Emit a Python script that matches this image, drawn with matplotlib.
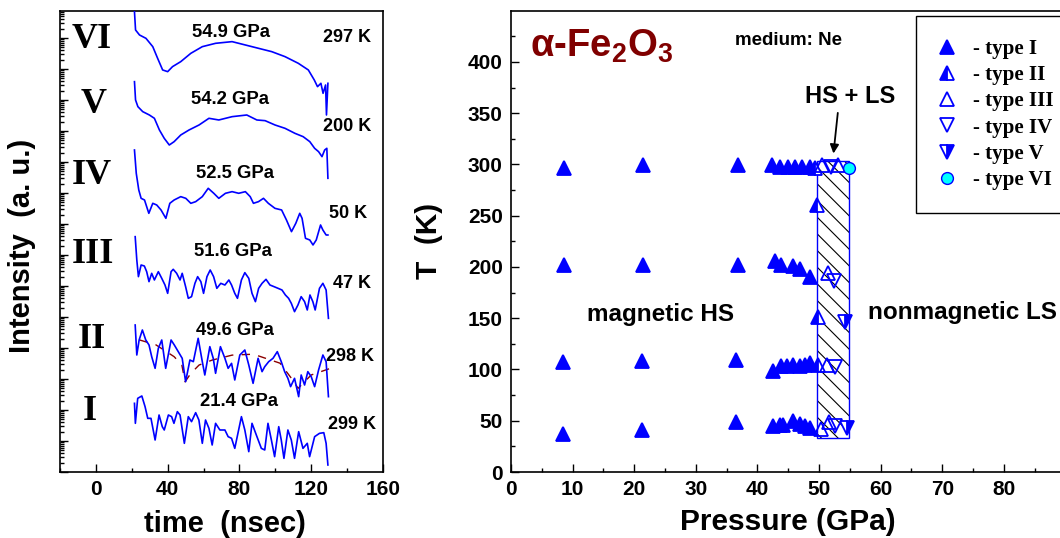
import numpy as np
import matplotlib
matplotlib.use('Agg')
import matplotlib.pyplot as plt
from matplotlib.patches import Rectangle
from matplotlib.ticker import LogLocator, MultipleLocator, NullFormatter, FixedLocator

plt.rcParams['font.family'] = ['Liberation Sans', 'DejaVu Sans']
plt.rcParams['font.weight'] = 'bold'
plt.rcParams['mathtext.fontset'] = 'custom'
plt.rcParams['mathtext.rm'] = 'Liberation Sans:bold'
plt.rcParams['mathtext.bf'] = 'Liberation Sans:bold'
plt.rcParams['hatch.linewidth'] = 0.8

# ---------------- left panel: NFS time spectra (time in ns, log10 intensity, stacked) -------------
t_I = [21.5, 22.0, 23.3, 25.6, 27.4, 28.9, 30.7, 33.0, 35.2, 37.0, 38.1, 40.4, 42.2, 43.5, 45.4, 46.9,
       49.3, 51.5, 53.3, 55.6, 57.4, 59.3, 61.1, 63.0, 64.8, 66.7, 69.1, 71.9, 73.7, 75.6, 77.4, 81.1,
       83.0, 85.2, 87.0, 89.4, 92.2, 94.1, 95.9, 97.8, 99.6, 101.9, 103.3, 104.8, 107.0, 108.9, 110.7,
       113.0, 115.4, 117.8, 119.1, 121.9, 124.6, 127.0, 128.3, 129.3]
logI_I = [2.215, 1.570, 2.376, 2.452, 2.108, 1.731, 1.731, 1.032, 1.839, 1.462, 1.355, 1.839, 1.785,
          1.570, 1.946, 1.839, 0.925, 1.785, 1.624, 1.914, 1.677, 0.925, 1.677, 1.409, 0.871, 1.570,
          1.355, 1.355, 1.140, 1.086, 0.763, 1.785, 1.355, 0.656, 1.570, 1.194, 0.763, 0.710, 1.570,
          1.032, 0.495, 1.462, 1.032, 0.441, 1.355, 1.032, 0.441, 1.301, 0.763, 0.925, 0.495, 1.140,
          1.247, 1.269, 0.925, 0.226]

t_II = [21.9, 22.8, 24.1, 25.9, 27.8, 29.6, 31.1, 33.0, 34.8, 36.7, 38.9, 41.9, 43.7, 45.9, 48.1, 50.0,
        52.4, 54.3, 57.0, 59.3, 60.7, 63.5, 65.4, 66.7, 69.4, 71.9, 73.7, 75.6, 77.4, 80.2, 83.0, 85.2,
        87.6, 90.4, 92.6, 94.1, 96.3, 98.7, 101.1, 103.3, 105.2, 107.0, 108.5, 110.7, 113.0, 114.4,
        116.3, 118.1, 120.0, 121.9, 124.1, 126.5, 128.3, 129.6]
logI_II = [4.742, 3.774, 4.258, 4.581, 4.258, 4.097, 3.720, 3.344, 3.989, 4.258, 3.344, 4.258, 4.097,
           3.882, 3.667, 2.914, 3.613, 3.559, 4.312, 3.559, 3.129, 4.043, 3.667, 3.183, 4.043, 3.667,
           3.344, 3.505, 2.968, 3.774, 3.935, 3.452, 2.860, 3.667, 3.237, 3.398, 3.559, 3.667, 3.882,
           3.559, 3.237, 3.022, 2.753, 3.022, 2.430, 3.129, 2.806, 3.237, 3.075, 2.753, 3.290, 3.774,
           3.559, 2.430]

# fitted curve for spectrum II (dark red, dashed)
t_fit = [24.3, 33.5, 43.6, 47.9, 49.7, 52.9, 57.5, 64.8, 75.9, 87.8, 102.6, 109.0, 112.7, 120.0, 131.0]
logI_fit = [4.26, 4.10, 3.72, 3.45, 2.91, 3.18, 3.45, 3.61, 3.77, 3.80, 3.51, 3.02, 2.70, 3.13, 3.35]

t_III = [21.9, 22.8, 23.7, 25.2, 27.0, 28.3, 29.6, 31.1, 32.6, 34.8, 36.7, 38.5, 40.0, 41.9, 43.1,
         45.0, 46.9, 48.1, 50.0, 51.5, 53.3, 55.2, 56.7, 58.5, 60.0, 61.9, 63.7, 65.6, 67.4, 69.6,
         71.9, 74.1, 75.6, 77.4, 78.9, 81.1, 83.0, 85.2, 87.0, 88.9, 90.7, 92.6, 94.8, 97.0, 99.3,
         101.5, 103.7, 105.6, 107.4, 108.9, 110.7, 112.6, 114.4, 116.3, 117.8, 119.3, 120.9, 122.2,
         124.6, 126.5, 128.3, 129.6]
logI_III = [7.591, 6.839, 6.301, 6.677, 6.645, 6.462, 6.140, 6.409, 6.194, 6.462, 6.247, 6.032, 5.763,
            6.462, 6.538, 6.409, 6.194, 6.409, 5.978, 5.602, 5.656, 6.086, 6.301, 6.140, 5.763, 6.301,
            6.516, 6.301, 5.925, 6.086, 6.032, 6.194, 6.032, 5.763, 5.602, 6.194, 6.430, 6.247, 5.763,
            5.495, 5.925, 6.086, 6.215, 6.032, 5.978, 5.925, 5.871, 5.710, 5.602, 5.441, 5.172, 5.387,
            5.656, 5.495, 5.226, 5.710, 5.495, 5.226, 5.925, 6.086, 5.871, 4.957]

t_IV = [21.5, 22.5, 23.9, 25.2, 27.1, 29.5, 31.7, 33.9, 36.3, 39.0, 41.2, 43.6, 47.3, 50.1, 52.9, 55.6,
        59.3, 62.6, 65.7, 68.5, 72.2, 75.9, 79.6, 83.3, 86.0, 87.8, 90.6, 93.4, 96.1, 99.8, 103.5,
        106.2, 109.0, 111.4, 113.6, 114.9, 116.8, 119.2, 121.0, 122.8, 125.2, 126.5, 128.3, 129.3]
logI_IV = [10.387, 9.634, 9.097, 8.828, 8.774, 8.344, 8.667, 8.613, 8.452, 8.183, 8.667, 8.774, 8.882,
           8.828, 8.667, 8.720, 8.882, 9.151, 8.990, 8.828, 8.990, 9.043, 8.990, 9.043, 8.882, 8.667,
           8.720, 8.828, 8.667, 8.505, 8.452, 8.129, 7.753, 8.022, 8.344, 8.183, 7.538, 7.484, 7.323,
           7.484, 7.968, 7.806, 7.645, 7.645]

t_V = [21.5, 22.1, 23.4, 26.1, 29.8, 32.6, 35.4, 38.1, 40.9, 43.6, 47.3, 51.9, 57.5, 63.0, 68.5, 75.9,
       84.1, 89.7, 94.3, 99.8, 105.4, 110.9, 115.5, 119.2, 121.9, 124.1, 126.0, 127.5, 128.7, 129.3]
logI_V = [12.591, 12.000, 11.785, 11.624, 11.516, 11.409, 11.032, 10.763, 10.548, 10.656, 10.871,
          11.032, 11.194, 11.409, 11.355, 11.462, 11.516, 11.355, 11.333, 11.194, 11.086, 10.925,
          10.817, 10.656, 10.441, 10.333, 10.172, 10.387, 10.441, 9.474]

t_VI = [21.5, 22.1, 24.3, 27.9, 31.7, 34.4, 37.2, 40.0, 42.7, 47.3, 52.9, 59.3, 66.7, 75.9, 83.3, 90.6,
        98.0, 105.4, 112.8, 118.4, 121.7, 123.5, 125.4, 126.6, 128.0, 128.5, 129.3]
logI_VI = [14.849, 14.258, 14.097, 13.989, 13.720, 13.344, 12.968, 12.914, 13.075, 13.237, 13.505,
           13.720, 13.828, 13.882, 13.774, 13.667, 13.559, 13.398, 13.183, 12.968, 12.645, 12.430,
           12.538, 12.215, 12.484, 11.516, 12.538]

spectra_t = [t_I, t_II, t_III, t_IV, t_V, t_VI]
spectra_logI = [logI_I, logI_II, logI_III, logI_IV, logI_V, logI_VI]
spectra_names = ['I', 'II', 'III', 'IV', 'V', 'VI']
spectra_pressure = ['21.4 GPa', '49.6 GPa', '51.6 GPa', '52.5 GPa', '54.2 GPa', '54.9 GPa']
spectra_temp = ['299 K', '298 K', '47 K', '50 K', '200 K', '297 K']

# ---------------- right panel: phase diagram (P in GPa, T in K) ----------------
typeI_P = [8.6, 21.5, 36.9, 42.3, 43.7, 44.9, 46.1, 47.2, 48.5,
           8.6, 21.5, 36.9, 42.9, 43.9, 45.8, 46.9, 48.5,
           8.5, 21.2, 36.6, 42.6, 43.9, 44.8, 45.8, 46.9, 47.7, 48.5,
           8.5, 21.2, 36.6, 42.6, 43.6, 44.2, 45.8, 46.9, 47.8, 48.5]
typeI_T = [297, 299, 299, 299, 298, 298, 298, 298, 298,
           202, 202, 202, 206, 202, 201, 198, 190,
           107, 108, 109, 99, 103, 103, 104, 103, 104, 106,
           37, 41, 49, 45, 46, 46, 50, 47, 45, 43]
typeII_P = [49.4, 49.7, 49.9, 49.9]
typeII_T = [297, 260, 151, 104]
typeIII_P = [50.5, 53.1, 51.4, 51.3, 50.3, 51.7]
typeIII_T = [299, 299, 194, 104, 42, 49]
typeIV_P = [52.0, 52.4, 52.6, 52.6]
typeIV_T = [298, 186, 102, 45]
typeV_P = [54.3, 54.5]
typeV_T = [146, 43]
typeVI_P = [54.9]
typeVI_T = [297]

mixed_P = [49.7, 54.8]   # HS + LS coexistence range
mixed_T = [33, 303]

blue = '#0000FF'

fig = plt.figure(figsize=(10.6, 5.38), dpi=100)

# ---------- left axes ----------
axL = fig.add_axes([60 / 1060, 66 / 538, 323 / 1060, 461.3 / 538])
axL.set_yscale('log')
axL.set_xlim(-20, 160)
axL.set_ylim(1, 10 ** 14.88)

axL.plot(t_fit, [10 ** v for v in logI_fit], color='#8B0000', lw=1.0, dashes=(6, 6), zorder=2)
for ts, ls in zip(spectra_t, spectra_logI):
    axL.plot(ts, [10 ** v for v in ls], color=blue, lw=1.2, zorder=3)

name_pos = [(-3.3, 1.95), (-2.1, 4.26), (-1.5, 7.0), (-2.4, 9.58), (-1.5, 11.84), (-2.4, 13.94)]
press_pos = [(79.6, 2.27), (77.7, 4.58), (76.2, 7.11), (77.7, 9.63), (75.0, 12.0), (75.1, 14.19)]
temp_pos = [(142.5, 1.52), (141.7, 3.72), (143.0, 6.09), (140.6, 8.34), (139.8, 11.14), (139.8, 14.0)]
for nm, (x, y) in zip(spectra_names, name_pos):
    axL.text(x, 10 ** y, nm, family=['Liberation Serif'], fontsize=26, fontweight='bold',
             ha='center', va='center')
for s, (x, y) in zip(spectra_pressure, press_pos):
    axL.text(x, 10 ** y, s, fontsize=13.3, fontweight='bold', ha='center', va='center')
for s, (x, y) in zip(spectra_temp, temp_pos):
    axL.text(x, 10 ** y, s, fontsize=13, fontweight='bold', ha='center', va='center')

axL.xaxis.set_major_locator(MultipleLocator(40))
axL.xaxis.set_minor_locator(MultipleLocator(20))
axL.yaxis.set_major_locator(LogLocator(base=10, numticks=30))
axL.yaxis.set_minor_locator(LogLocator(base=10, subs=np.arange(2, 10), numticks=300))
axL.yaxis.set_major_formatter(NullFormatter())
axL.yaxis.set_minor_formatter(NullFormatter())
axL.tick_params(which='both', direction='in', top=False, right=False, width=1.0)
axL.tick_params(which='major', length=6, labelsize=15, pad=6)
axL.tick_params(which='minor', length=3)
for lab in axL.get_xticklabels():
    lab.set_fontweight('bold')
for sp in axL.spines.values():
    sp.set_linewidth(1.2)
axL.set_xlabel('time  (nsec)', fontsize=21, fontweight='bold')
axL.set_ylabel('Intensity  (a. u.)', fontsize=21, fontweight='bold')
axL.xaxis.set_label_coords(0.511, -0.082)
axL.yaxis.set_label_coords(-0.075, 0.49)

# ---------- right axes ----------
axR = fig.add_axes([511 / 1060, 66 / 538, 554.4 / 1060, 461.3 / 538])
axR.set_xlim(0, 90)
axR.set_ylim(0, 450)

axR.add_patch(Rectangle((mixed_P[0], mixed_T[0]), mixed_P[1] - mixed_P[0], mixed_T[1] - mixed_T[0],
                        facecolor='none', edgecolor='black', lw=0, hatch='\\\\', zorder=1))
axR.add_patch(Rectangle((mixed_P[0], mixed_T[0]), mixed_P[1] - mixed_P[0], mixed_T[1] - mixed_T[0],
                        facecolor='none', edgecolor=blue, lw=1.0, zorder=2))

ms = 10.5
mk = dict(linestyle='none', ms=ms, markeredgecolor=blue, mew=1.3)
h1, = axR.plot(typeI_P, typeI_T, marker='^', color=blue, zorder=3, **mk)
h2, = axR.plot(typeII_P, typeII_T, marker='^', color=blue, fillstyle='left',
               markerfacecoloralt='white', zorder=3, **mk)
h3, = axR.plot(typeIII_P, typeIII_T, marker='^', markerfacecolor='none', zorder=3, **mk)
h4, = axR.plot(typeIV_P, typeIV_T, marker='v', markerfacecolor='none', zorder=3, **mk)
h5, = axR.plot(typeV_P, typeV_T, marker='v', color=blue, fillstyle='right',
               markerfacecoloralt='white', zorder=3, **mk)
h6, = axR.plot(typeVI_P, typeVI_T, marker='o', markerfacecolor='#00FFFF', linestyle='none',
               ms=8.5, markeredgecolor=blue, mew=1.0, zorder=3)

axR.text(3.1, 405, 'α-Fe$_\\mathbf{2}$O$_\\mathbf{3}$', color='#800000', fontsize=27.5,
         fontweight='bold', ha='left', va='baseline')
axR.text(45.1, 421, 'medium: Ne', fontsize=13.5, fontweight='bold', ha='center', va='center')
axR.text(55.0, 366, 'HS + LS', fontsize=17, fontweight='bold', ha='center', va='center')
axR.annotate('', xy=(52.3, 308), xytext=(53.1, 353),
             arrowprops=dict(arrowstyle='-|>', color='black', lw=1.3, mutation_scale=13))
axR.text(24.3, 154, 'magnetic HS', fontsize=17.5, fontweight='bold', ha='center', va='center')
axR.text(73.3, 156, 'nonmagnetic LS', fontsize=17.5, fontweight='bold', ha='center', va='center')

axR.xaxis.set_major_locator(FixedLocator([0, 10, 20, 30, 40, 50, 60, 70, 80]))
axR.xaxis.set_minor_locator(FixedLocator([5, 15, 25, 35, 45, 55, 65, 75, 85]))
axR.yaxis.set_major_locator(FixedLocator([0, 50, 100, 150, 200, 250, 300, 350, 400]))
axR.yaxis.set_minor_locator(FixedLocator([25, 75, 125, 175, 225, 275, 325, 375, 425]))
axR.tick_params(which='both', direction='in', top=False, right=False, width=1.0)
axR.tick_params(which='major', length=6, labelsize=15, pad=6)
axR.tick_params(which='minor', length=3)
for lab in axR.get_xticklabels() + axR.get_yticklabels():
    lab.set_fontweight('bold')
for sp in axR.spines.values():
    sp.set_linewidth(1.2)
axR.set_xlabel('Pressure (GPa)', fontsize=21.5, fontweight='bold')
axR.set_ylabel('T  (K)', fontsize=21.5, fontweight='bold')
axR.xaxis.set_label_coords(0.50, -0.078)
axR.yaxis.set_label_coords(-0.123, 0.50)

leg = axR.legend([h1, h2, h3, h4, h5, h6],
                 ['- type I', '- type II', '- type III', '- type IV', '- type V', '- type VI'],
                 loc='upper left', bbox_to_anchor=(916 / 1060, 522 / 538),
                 bbox_transform=fig.transFigure,
                 prop=dict(family='Liberation Serif', weight='bold', size=15),
                 frameon=True, fancybox=False, edgecolor='black', framealpha=1,
                 borderpad=1.1, labelspacing=0.3, handlelength=0.8, handletextpad=0.84,
                 borderaxespad=0)
leg.get_frame().set_linewidth(1.0)

fig.savefig('out.png', dpi=100)
